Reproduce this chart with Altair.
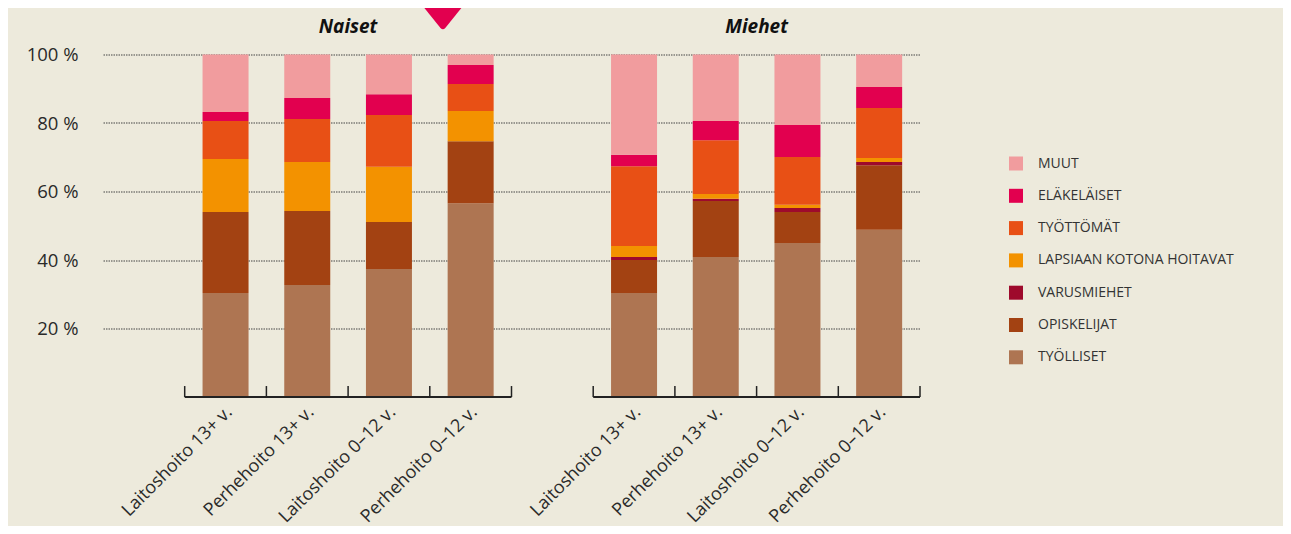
import altair as alt
import pandas as pd

FONT = "Open Sans"

categories = ["Laitoshoito 13+ v.", "Perhehoito 13+ v.", "Laitoshoito 0–12 v.", "Perhehoito 0–12 v."]
groups = ["Naiset", "Miehet"]
series = ["TYÖLLISET", "OPISKELIJAT", "VARUSMIEHET", "LAPSIAAN KOTONA HOITAVAT",
          "TYÖTTÖMÄT", "ELÄKELÄISET", "MUUT"]
colors = ["#ae7552", "#a34212", "#9e0a2c", "#f39200", "#e85015", "#e2004f", "#f19c9e"]

naiset_tyolliset = [30.4, 32.7, 37.4, 56.6]
naiset_opiskelijat = [23.6, 21.6, 13.7, 18.1]
naiset_varusmiehet = [0.0, 0.0, 0.0, 0.0]
naiset_lapsiaan = [15.5, 14.3, 16.1, 8.8]
naiset_tyottomat = [11.1, 12.6, 15.1, 7.9]
naiset_elakelaiset = [2.6, 6.1, 6.1, 5.5]
naiset_muut = [16.8, 12.7, 11.6, 3.1]

miehet_tyolliset = [30.4, 40.9, 45.0, 48.8]
miehet_opiskelijat = [9.6, 16.3, 9.0, 18.9]
miehet_varusmiehet = [0.9, 0.7, 1.2, 0.9]
miehet_lapsiaan = [3.2, 1.4, 0.9, 1.2]
miehet_tyottomat = [23.3, 15.7, 14.0, 14.6]
miehet_elakelaiset = [3.3, 5.6, 9.3, 6.1]
miehet_muut = [29.3, 19.4, 20.6, 9.5]

naiset = [naiset_tyolliset, naiset_opiskelijat, naiset_varusmiehet, naiset_lapsiaan,
          naiset_tyottomat, naiset_elakelaiset, naiset_muut]
miehet = [miehet_tyolliset, miehet_opiskelijat, miehet_varusmiehet, miehet_lapsiaan,
          miehet_tyottomat, miehet_elakelaiset, miehet_muut]

rows = []
for g, vals in [("Naiset", naiset), ("Miehet", miehet)]:
    for si, s in enumerate(series):
        for ci, c in enumerate(categories):
            rows.append({"cat": f"{g}|{c}", "series": s, "rank": si, "value": vals[si][ci]})
df = pd.DataFrame(rows)

ncats = [f"Naiset|{c}" for c in categories]
mcats = [f"Miehet|{c}" for c in categories]
domain = [" "] + ncats + ["  "] + mcats

xscale = alt.Scale(domain=domain, paddingInner=0, paddingOuter=0)
yscale = alt.Scale(domain=[0, 100], nice=False)

xaxis = alt.Axis(
    title=None, labelAngle=-45, labelAlign="right", labelBaseline="middle",
    labelExpr="indexof(datum.value,'|') >= 0 ? split(datum.value,'|')[1] : ''",
    ticks=False, domain=False, labelPadding=12, labelOffset=4, labelFontSize=18,
    labelColor="#2a2a2a", labelFont=FONT, labelOverlap=False, labelLimit=0)

legend_order = series[::-1]
legend_colors = colors[::-1]

bars = alt.Chart(df).mark_bar(width=alt.RelativeBandSize(0.563)).encode(
    x=alt.X("cat:N", scale=xscale, sort=None, axis=xaxis),
    y=alt.Y("value:Q", stack="zero", scale=yscale, axis=alt.Axis(
        values=[20, 40, 60, 80, 100], title=None, labelExpr="datum.value + ' %'",
        ticks=False, domain=False, grid=True, gridDash=[1.5, 1], gridColor="#444",
        gridWidth=1, labelPadding=25, labelFontSize=18.5, labelColor="#2a2a2a",
        labelFont=FONT)),
    color=alt.Color("series:N", scale=alt.Scale(domain=legend_order, range=legend_colors),
                    legend=alt.Legend(title=None, orient="none", legendX=906, legendY=102,
                                      symbolType="square", symbolSize=196, symbolStrokeWidth=0,
                                      symbolOpacity=1, labelFontSize=14, labelFont=FONT,
                                      labelColor="#333", labelOffset=15, rowPadding=18.3,
                                      padding=0, labelLimit=0)),
    order=alt.Order("rank:Q", sort="ascending"),
)

base_df = pd.DataFrame({"cat": [ncats[0], mcats[0]], "b": [ncats[-1], mcats[-1]]})
baseline = alt.Chart(base_df).mark_rule(color="#222", strokeWidth=2).encode(
    x=alt.X("cat:N", scale=xscale, bandPosition=0, axis=xaxis),
    x2=alt.X2("b:N", bandPosition=1),
    y=alt.datum(0),
)

tick_df = pd.DataFrame({"cat": ncats + ["  "] + mcats})
ticks0 = alt.Chart(tick_df).mark_rule(color="#222", strokeWidth=1.5).encode(
    x=alt.X("cat:N", scale=xscale, bandPosition=0, axis=xaxis),
    y=alt.datum(0),
    y2=alt.datum(3.2),
)
tick_end_df = pd.DataFrame({"cat": [mcats[-1]]})
ticks1 = alt.Chart(tick_end_df).mark_rule(color="#222", strokeWidth=1.5).encode(
    x=alt.X("cat:N", scale=xscale, bandPosition=1, axis=xaxis),
    y=alt.datum(0),
    y2=alt.datum(3.2),
)

title_df = pd.DataFrame({"cat": [ncats[1], mcats[1]], "t": groups})
titles = alt.Chart(title_df).mark_text(
    fontSize=19, fontStyle="italic", fontWeight="bold", font=FONT, color="#111",
    baseline="middle", align="center"
).encode(
    x=alt.X("cat:N", scale=xscale, bandPosition=1, axis=xaxis),
    y=alt.value(-27.5),
    text="t:N",
)

shape_df = pd.DataFrame({"cat": [ncats[3]]})
shape = alt.Chart(shape_df).mark_point(
    shape="M -1.64 -1 L 1.64 -1 L 0.08 0.93 Q 0 1.02 -0.08 0.93 Z",
    filled=True, color="#e2004f", opacity=1, size=3600, strokeWidth=0
).encode(
    x=alt.X("cat:N", scale=xscale, bandPosition=0.16, axis=xaxis),
    y=alt.value(-54.5),
)

chart = alt.layer(bars, baseline, ticks0, ticks1, titles, shape).properties(
    width=817, height=342.5,
    autosize=alt.AutoSizeParams(type="none"),
    padding={"left": 95, "top": 46.5, "right": 363, "bottom": 129},
    background="#edeadc",
).configure_view(stroke=None)

chart.save("out.html", embed_options={"renderer": "svg", "actions": False})
